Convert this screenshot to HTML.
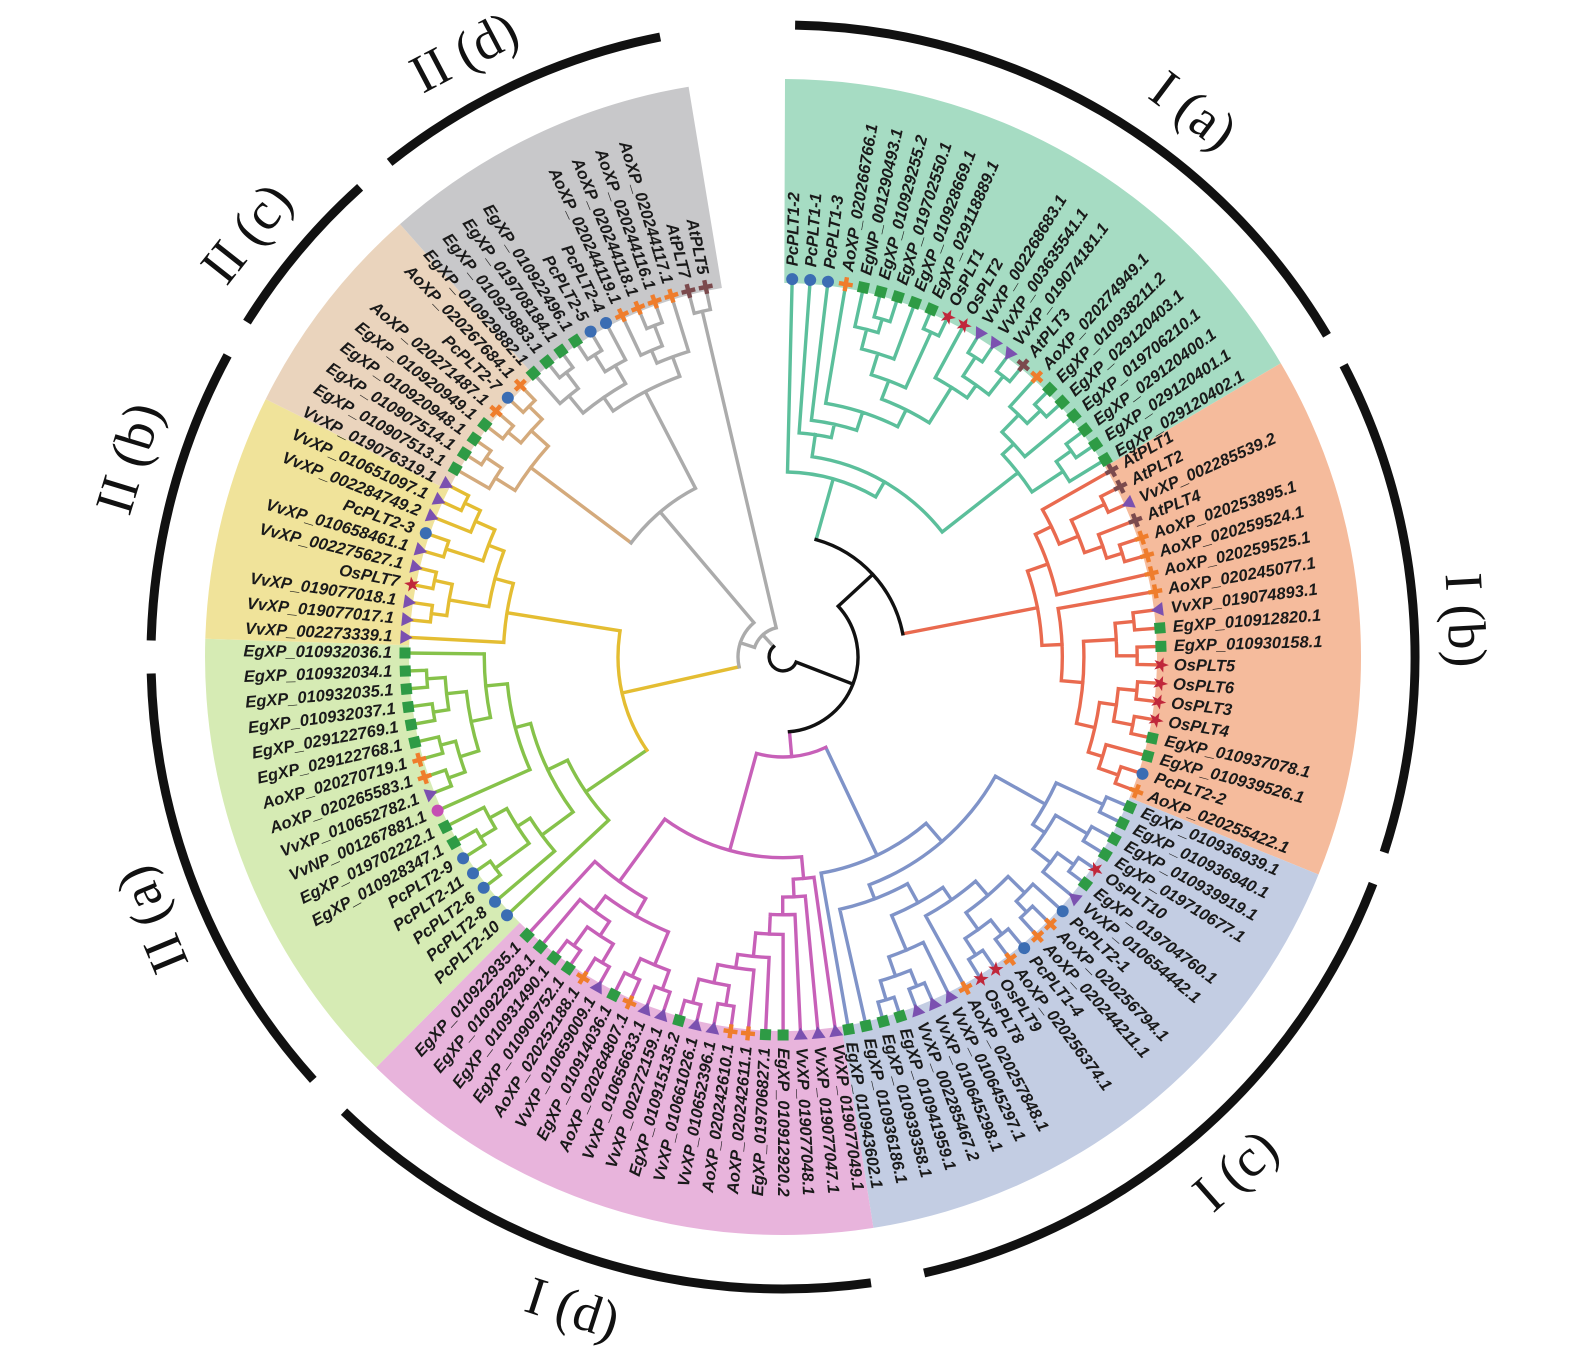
<!DOCTYPE html>
<html><head><meta charset="utf-8"><style>
html,body{margin:0;padding:0;background:#fff;}
svg{display:block;}
</style></head><body>
<svg id="s" width="1575" height="1349" viewBox="0 0 1575 1349" xmlns="http://www.w3.org/2000/svg"></svg>
<script>
const CX=783,CY=657,RL=378;
function P(r,a){const t=a*Math.PI/180;return [CX+r*Math.sin(t),CY-r*Math.cos(t)];}
function f(p){return p[0].toFixed(1)+","+p[1].toFixed(1);}
function arcD(r,a1,a2){if(a2<a1){const t=a1;a1=a2;a2=t;}const L=(a2-a1)>180?1:0;return "M"+f(P(r,a1))+"A"+r+","+r+" 0 "+L+",1 "+f(P(r,a2));}
let bands="",lines={},marks="",texts="";
function line(col,d){lines[col]=(lines[col]||"")+d;}
const groups=[
{n:["PcPLT1-2","PcPLT1-1","PcPLT1-3","AoXP_020266766.1","EgNP_001290493.1","EgXP_010929255.2","EgXP_019702550.1","EgXP_010928669.1","EgXP_029118889.1","OsPLT1","OsPLT2","VvXP_002268683.1","VvXP_003635541.1","VvXP_019074181.1","AtPLT3","AoXP_020274949.1","EgXP_010938211.2","EgXP_029120403.1","EgXP_019706210.1","EgXP_029120400.1","EgXP_029120401.1","EgXP_029120402.1"],a0:1.4,a1:58.5,band:"#a6dcc3",br:"#5bbf9b"},
{n:["AtPLT1","AtPLT2","VvXP_002285539.2","AtPLT4","AoXP_020253895.1","AoXP_020259524.1","AoXP_020259525.1","AoXP_020245077.1","VvXP_019074893.1","EgXP_010912820.1","EgXP_010930158.1","OsPLT5","OsPLT6","OsPLT3","OsPLT4","EgXP_010937078.1","EgXP_010939526.1","PcPLT2-2","AoXP_020255422.1"],a0:60.4,a1:110.8,band:"#f5bb9c",br:"#e96a4f"},
{n:["EgXP_010936939.1","EgXP_010936940.1","EgXP_010939919.1","EgXP_019710677.1","OsPLT10","EgXP_019704760.1","VvXP_010654442.1","PcPLT2-1","AoXP_020256794.1","AoXP_020244211.1","PcPLT1-4","AoXP_020256374.1","OsPLT9","OsPLT8","AoXP_020257848.1","VvXP_010645297.1","VvXP_010645298.1","VvXP_002285467.2","EgXP_010941959.1","EgXP_010939358.1","EgXP_010936186.1","EgXP_010943602.1"],a0:113.4,a1:170,band:"#c3cde3",br:"#7f93c8"},
{n:["VvXP_019077049.1","VvXP_019077047.1","VvXP_019077048.1","EgXP_010912920.2","EgXP_019706827.1","AoXP_020242611.1","AoXP_020242610.1","VvXP_010652396.1","VvXP_010661026.1","EgXP_010915135.2","VvXP_002272159.1","VvXP_010656633.1","AoXP_020264807.1","EgXP_010914036.1","VvXP_010659009.1","AoXP_020252188.1","EgXP_010909752.1","EgXP_010931490.1","EgXP_010922928.1","EgXP_010922935.1"],a0:172,a1:222.6,band:"#e8b4dc",br:"#c760b8"},
{n:["PcPLT2-10","PcPLT2-8","PcPLT2-6","PcPLT2-11","PcPLT2-9","EgXP_010928347.1","EgXP_019702222.1","VvNP_001267881.1","VvXP_010652782.1","AoXP_020265583.1","AoXP_020270719.1","EgXP_029122768.1","EgXP_029122769.1","EgXP_010932037.1","EgXP_010932035.1","EgXP_010932034.1","EgXP_010932036.1"],a0:226.9,a1:270.6,band:"#d6ebb4",br:"#86c24a"},
{n:["VvXP_002273339.1","VvXP_019077017.1","VvXP_019077018.1","OsPLT7","VvXP_002275627.1","VvXP_010658461.1","PcPLT2-3","VvXP_002284749.2","VvXP_010651097.1","VvXP_019076319.1"],band:"#f0e39a",br:"#e4bd32"},
{n:["EgXP_010907513.1","EgXP_010907514.1","EgXP_010920948.1","EgXP_010920949.1","AoXP_020271487.1","PcPLT2-7","AoXP_020267684.1"],band:"#ead4bd",br:"#d4aa7c"},
{n:["EgXP_010929882.1","EgXP_010929883.1","EgXP_019708184.1","EgXP_010922496.1","PcPLT2-5","PcPLT2-4","AoXP_020244119.1","AoXP_020244118.1","AoXP_020244116.1","AoXP_020244117.1","AtPLT7","AtPLT5"],band:"#c8c8ca",br:"#ababab"}
];
groups.forEach(g=>{g.ang=[];});
for(let i=0;i<5;i++){const g=groups[i];const n=g.n.length;for(let k=0;k<n;k++)g.ang.push(g.a0+(g.a1-g.a0)*k/(n-1));}
{let k=0;const st=(348.2-273)/28;for(let i=5;i<8;i++){groups[i].n.forEach(()=>{groups[i].ang.push(273+st*k);k++;});}}
for(let i=0;i<8;i++){const g=groups[i];const prev=groups[(i+7)%8],next=groups[(i+1)%8];
 let s=i==0?0.2:(prev.ang[prev.ang.length-1]+g.ang[0])/2;
 let e=i==7?350.6:(g.ang[g.ang.length-1]+next.ang[0])/2;
 if(i==5)e=296.5; if(i==6)s=296.5; if(i==6)e=318.5; if(i==7)s=318.5;
 const ri=374,ro=578;
 bands+=`<path fill="${g.band}" d="M${f(P(ri,s))}L${f(P(ro,s))}A${ro},${ro} 0 0,1 ${f(P(ro,e))}L${f(P(ri,e))}A${ri},${ri} 0 0,0 ${f(P(ri,s))}Z"/>`;
}
let seed=12345;function rnd(){seed=(seed*16807)%2147483647;return seed/2147483647;}
function combine(c1,c2,r,col){
 if(c1.a>c2.a){const t=c1;c1=c2;c2=t;}
 line(col,arcD(r,c1.a,c2.a));
 [c1,c2].forEach(c=>{if(c.r>r)line(c.col,"M"+f(P(r,c.a))+"L"+f(P(c.r,c.a)));});
 return {a:(c1.a+c2.a)/2,r:r,col:col,h:Math.max(c1.h||0,c2.h||0)+1};
}
function build(g,lo,hi,rmin){
 if(lo==hi)return {a:g.ang[lo],r:RL,col:g.br,h:0};
 const n=hi-lo+1;let k;
 const q=rnd();
 if(n>2&&q<0.3)k=lo; else if(n>2&&q<0.55)k=hi-1; else k=lo+Math.floor((n-1)*(0.3+0.4*rnd()));
 if(k<lo)k=lo;if(k>hi-1)k=hi-1;
 const c1=build(g,lo,k,rmin),c2=build(g,k+1,hi,rmin);
 const h=Math.max(c1.h,c2.h)+1;
 let r=RL-20-19*(h-1)-rnd()*6; if(r<rmin)r=rmin;
 const nd=combine(c1,c2,Math.min(r,Math.min(c1.r,c2.r)-8),g.br);nd.h=h;return nd;
}
const G=groups.map((g,i)=>{const hi=i==7?9:g.n.length-1;return build(g,0,hi,[150,150,150,150,165,200,215,230][i]);});
const gr=groups[7];
const At=combine({a:gr.ang[10],r:RL,col:gr.br},{a:gr.ang[11],r:RL,col:gr.br},355,gr.br);
const GO=combine(G[0],G[1],122,"#111");
const BP=combine(G[2],G[3],100,"#c760b8");
const I=combine(GO,BP,75,"#111");
const LY=combine(G[4],G[5],165,"#e4bd32");
const TG=combine(G[6],G[7],190,"#ababab");
const II=combine(LY,TG,45,"#ababab");
const IIa=combine(II,At,30,"#ababab");
const ROOT=combine(I,IIa,14,"#111");
function star(){let p=[];for(let i=0;i<10;i++){const rr=i%2?3.2:8,t=(i*36-90)*Math.PI/180;p.push((rr*Math.cos(t)).toFixed(1)+","+(rr*Math.sin(t)).toFixed(1));}return p.join(" ");}
const STAR=star();
function marker(name,a){
 const p=P(RL,a);let s="";
 if(name=="VvNP_001267881.1") s=`<circle r="6" fill="#c54db3"/>`;
 else if(name.startsWith("Pc")) s=`<circle r="6" fill="#3b6db3"/>`;
 else if(name.startsWith("Eg")) s=`<rect x="-5.5" y="-5.5" width="11" height="11" fill="#2e9b45"/>`;
 else if(name.startsWith("Os")) s=`<polygon points="${STAR}" fill="#c0273b"/>`;
 else if(name.startsWith("Vv")) s=`<polygon points="-7,-5 7,-5 0,7" fill="#7b51b0"/>`;
 else if(name.startsWith("Ao")) s=`<path d="M-7,-2.2H7V2.2H-7ZM-2.2,-7H2.2V7H-2.2Z" fill="#ef7d2c"/>`;
 else s=`<path d="M-7,-2.2H7V2.2H-7ZM-2.2,-7H2.2V7H-2.2Z" fill="#7b4a4d"/>`;
 marks+=`<g transform="translate(${f(p)}) rotate(${a.toFixed(2)})">${s}</g>`;
 const t=P(391,a);
 if(a<180) texts+=`<text transform="translate(${f(t)}) rotate(${(a-90).toFixed(2)})" text-anchor="start">${name}</text>`;
 else texts+=`<text transform="translate(${f(t)}) rotate(${(a+90).toFixed(2)})" text-anchor="end">${name}</text>`;
}
groups.forEach(g=>g.n.forEach((n,i)=>marker(n,g.ang[i])));
const arcs=[[1.1,59.4],[62.5,108],[111,167.1],[172,224],[228,268.5],[271.5,298.5],[302,318],[321.5,348.8]];
let outer=arcs.map(a=>`<path d="${arcD(632,a[0],a[1])}" stroke="#111" stroke-width="9" fill="none"/>`).join("");
const labs=[["I (a)",36.9,36.9],["I (b)",86.9,86.9],["I (c)",138.6,-41.4],["I (d)",197.9,17.9],["II (a)",247.4,247.4],["II (b)",286.9,286.9],["II (c)",308.3,308.3],["II (d)",332.2,332.2]];
let lt=labs.map(l=>{const p=P(684,l[1]);return `<text transform="translate(${f(p)}) rotate(${l[2]})" text-anchor="middle" dominant-baseline="central">${l[0]}</text>`;}).join("");
let ls="";for(const c in lines)ls+=`<path d="${lines[c]}" stroke="${c}" stroke-width="3.4" fill="none" stroke-linecap="square"/>`;
document.getElementById("s").innerHTML=bands+ls+marks+
`<g font-family="Liberation Sans, sans-serif" font-weight="bold" font-style="italic" font-size="16.5" fill="#1a1a1a" dominant-baseline="central">${texts}</g>`+outer+
`<g font-family="Liberation Serif, serif" font-size="54" fill="#111">${lt}</g>`;
</script>
</body></html>
